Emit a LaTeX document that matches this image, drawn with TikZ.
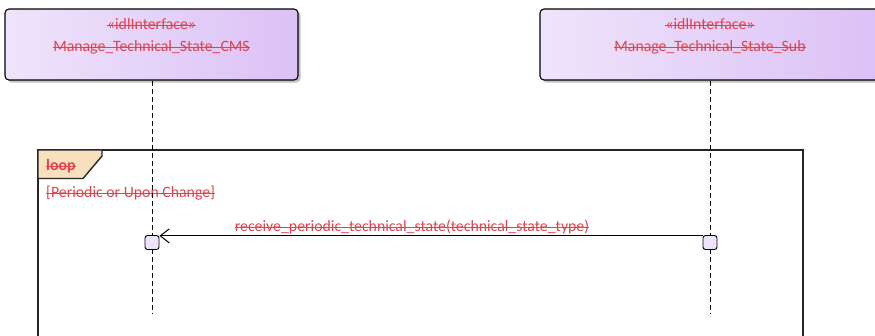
\documentclass[tikz,border=0pt]{standalone}
\usepackage{fontspec}
\setmainfont{Carlito}
\usetikzlibrary{arrows.meta,shadows}
\definecolor{txtred}{HTML}{E2434B}
\definecolor{boxL}{HTML}{EFE4FB}
\definecolor{boxR}{HTML}{DBC1F6}
\definecolor{actfill}{HTML}{EEE4FA}
\definecolor{tabfill}{HTML}{F8DFBE}
\tikzset{
  participant/.style={draw=black, line width=1.1pt, rounded corners=4pt,
    left color=boxL, right color=boxR, minimum height=71pt,
    drop shadow={shadow xshift=2.5pt, shadow yshift=-2.5pt, fill=black!40, opacity=0.6}},
  lbl/.style={text=txtred, font=\fontsize{15.8}{18}\selectfont, inner sep=0pt,
    append after command={([yshift=4.2pt]\tikzlastnode.base west) edge[draw=txtred, line width=0.8pt] ([yshift=4.2pt]\tikzlastnode.base east)}},
  lifeline/.style={draw=black, line width=0.9pt, dash pattern=on 5pt off 3pt},
  act/.style={draw=black, line width=0.9pt, fill=actfill, rounded corners=2.5pt,
    minimum width=14pt, minimum height=14pt, inner sep=0pt},
  msg/.style={draw=black, line width=1pt, -{Straight Barb[length=9pt,width=14pt,line width=1pt]}},
  frame/.style={draw=black!85, line width=1.4pt},
}
\begin{document}
\begin{tikzpicture}[x=1pt,y=-1pt]
\clip (0,0) rectangle (875,335);
\fill[white] (0,0) rectangle (875,335);
% participants
\node[participant, minimum width=293pt] (cms) at (151.5,44.5) {};
\node[participant, minimum width=340pt] (sub) at (710,44.5) {};
\node[lbl] (cmsst) at (151.5,24) {«idlInterface»};
\node[lbl] (cmsnm) at (151.5,47) {Manage\_Technical\_State\_CMS};
\node[lbl] (subst) at (710,24) {«idlInterface»};
\node[lbl] (subnm) at (710,47) {Manage\_Technical\_State\_Sub};
% loop frame
\draw[frame] (38,340) -- (38,150) -- (803,150) -- (803,340);
\draw[frame, fill=tabfill] (38,150) -- (102,150) -- (102,156) -- (83,178.5) -- (38,178.5) -- cycle;
\node[lbl, anchor=west] (looplbl) at (46,166) {\textbf{loop}};
\node[lbl, anchor=west] (guard) at (46,193.5) {[Periodic or Upon Change]};
% lifelines
\coordinate (cmsend) at (152,313);
\coordinate (subend) at (710,313);
\draw[lifeline] (152,80.5) -- (cmsend);
\draw[lifeline] (710,80.5) -- (subend);
% activations
\node[act] (a1) at (152,242.5) {};
\node[act] (a2) at (710,242.5) {};
% message
\draw[msg] ([yshift=-0.8pt]a2.north west) -- ([yshift=-0.8pt]a1.north east);
\node[lbl] (msglbl) at (412,227) {receive\_periodic\_technical\_state(technical\_state\_type)};
\end{tikzpicture}
\end{document}
